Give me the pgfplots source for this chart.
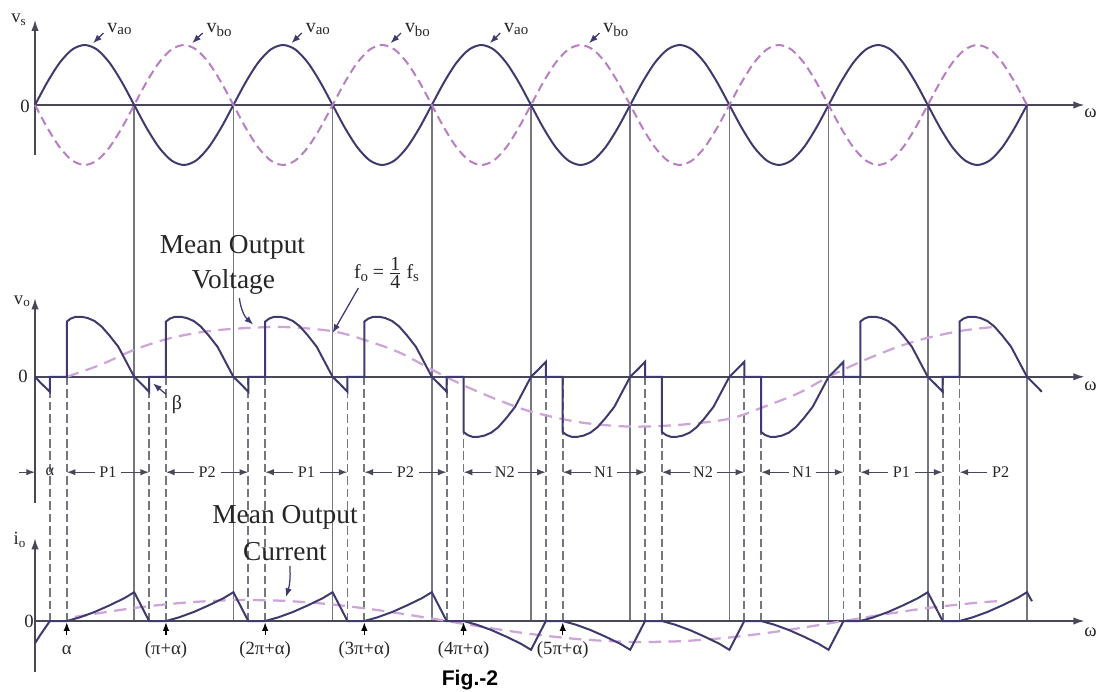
\documentclass[border=0pt]{standalone}
\usepackage{fontspec}
\setmainfont{Liberation Serif}
\newfontfamily\figfont{Liberation Sans}
\usepackage{pgfplots}
\pgfplotsset{compat=1.18}
\usepackage{pgfplotstable}
\usetikzlibrary{arrows.meta}

\definecolor{wave}{RGB}{62,58,112}
\definecolor{axiscol}{RGB}{72,72,88}
\definecolor{vline}{RGB}{118,118,128}
\definecolor{vbocol}{RGB}{185,125,195}
\definecolor{meancol}{RGB}{205,165,215}

% supply voltages (t in units of pi)
\pgfplotstableread{
t a b
0.000 0 0
0.125 0.383 -0.383
0.250 0.707 -0.707
0.375 0.924 -0.924
0.500 1 -1
0.625 0.924 -0.924
0.750 0.707 -0.707
0.875 0.383 -0.383
1.000 0 0
1.125 -0.383 0.383
1.250 -0.707 0.707
1.375 -0.924 0.924
1.500 -1 1
1.625 -0.924 0.924
1.750 -0.707 0.707
1.875 -0.383 0.383
2.000 0 0
2.125 0.383 -0.383
2.250 0.707 -0.707
2.375 0.924 -0.924
2.500 1 -1
2.625 0.924 -0.924
2.750 0.707 -0.707
2.875 0.383 -0.383
3.000 0 0
3.125 -0.383 0.383
3.250 -0.707 0.707
3.375 -0.924 0.924
3.500 -1 1
3.625 -0.924 0.924
3.750 -0.707 0.707
3.875 -0.383 0.383
4.000 0 0
4.125 0.383 -0.383
4.250 0.707 -0.707
4.375 0.924 -0.924
4.500 1 -1
4.625 0.924 -0.924
4.750 0.707 -0.707
4.875 0.383 -0.383
5.000 0 0
5.125 -0.383 0.383
5.250 -0.707 0.707
5.375 -0.924 0.924
5.500 -1 1
5.625 -0.924 0.924
5.750 -0.707 0.707
5.875 -0.383 0.383
6.000 0 0
6.125 0.383 -0.383
6.250 0.707 -0.707
6.375 0.924 -0.924
6.500 1 -1
6.625 0.924 -0.924
6.750 0.707 -0.707
6.875 0.383 -0.383
7.000 0 0
7.125 -0.383 0.383
7.250 -0.707 0.707
7.375 -0.924 0.924
7.500 -1 1
7.625 -0.924 0.924
7.750 -0.707 0.707
7.875 -0.383 0.383
8.000 0 0
8.125 0.383 -0.383
8.250 0.707 -0.707
8.375 0.924 -0.924
8.500 1 -1
8.625 0.924 -0.924
8.750 0.707 -0.707
8.875 0.383 -0.383
9.000 0 0
9.125 -0.383 0.383
9.250 -0.707 0.707
9.375 -0.924 0.924
9.500 -1 1
9.625 -0.924 0.924
9.750 -0.707 0.707
9.875 -0.383 0.383
10.000 0 0
}\supply

% output voltage
\pgfplotstableread{
t v
0.00 0
0.05 -0.09
0.10 -0.17
0.15 -0.25
0.15 0
0.32 0
0.32 0.92
0.36 0.97
0.41 1.00
0.47 1.00
0.53 0.98
0.60 0.93
0.67 0.84
0.75 0.69
0.84 0.50
0.92 0.25
1.00 0
1.08 -0.13
1.15 -0.25
1.15 0
1.32 0
1.32 0.92
1.36 0.97
1.41 1.00
1.47 1.00
1.53 0.98
1.60 0.93
1.67 0.84
1.75 0.69
1.84 0.50
1.92 0.25
2.00 0
2.08 -0.13
2.15 -0.25
2.15 0
2.32 0
2.32 0.92
2.36 0.97
2.41 1.00
2.47 1.00
2.53 0.98
2.60 0.93
2.67 0.84
2.75 0.69
2.84 0.50
2.92 0.25
3.00 0
3.08 -0.13
3.15 -0.25
3.15 0
3.32 0
3.32 0.92
3.36 0.97
3.41 1.00
3.47 1.00
3.53 0.98
3.60 0.93
3.67 0.84
3.75 0.69
3.84 0.50
3.92 0.25
4.00 0
4.08 -0.13
4.15 -0.25
4.15 0
4.32 0
4.32 -0.92
4.36 -0.97
4.41 -1.00
4.47 -1.00
4.53 -0.98
4.60 -0.93
4.67 -0.84
4.75 -0.69
4.84 -0.50
4.92 -0.25
5.00 0
5.08 0.13
5.15 0.25
5.15 0
5.32 0
5.32 -0.92
5.36 -0.97
5.41 -1.00
5.47 -1.00
5.53 -0.98
5.60 -0.93
5.67 -0.84
5.75 -0.69
5.84 -0.50
5.92 -0.25
6.00 0
6.08 0.13
6.15 0.25
6.15 0
6.32 0
6.32 -0.92
6.36 -0.97
6.41 -1.00
6.47 -1.00
6.53 -0.98
6.60 -0.93
6.67 -0.84
6.75 -0.69
6.84 -0.50
6.92 -0.25
7.00 0
7.08 0.13
7.15 0.25
7.15 0
7.32 0
7.32 -0.92
7.36 -0.97
7.41 -1.00
7.47 -1.00
7.53 -0.98
7.60 -0.93
7.67 -0.84
7.75 -0.69
7.84 -0.50
7.92 -0.25
8.00 0
8.08 0.13
8.15 0.25
8.15 0
8.32 0
8.32 0.92
8.36 0.97
8.41 1.00
8.47 1.00
8.53 0.98
8.60 0.93
8.67 0.84
8.75 0.69
8.84 0.50
8.92 0.25
9.00 0
9.08 -0.13
9.15 -0.25
9.15 0
9.32 0
9.32 0.92
9.36 0.97
9.41 1.00
9.47 1.00
9.53 0.98
9.60 0.93
9.67 0.84
9.75 0.69
9.84 0.50
9.92 0.25
10.00 0
10.08 -0.13
10.15 -0.25
}\vout

% mean output voltage
\pgfplotstableread{
t v
0.32 0
0.66 0.20
1.00 0.45
1.33 0.63
1.66 0.74
2.00 0.80
2.50 0.83
3.00 0.76
3.35 0.60
3.68 0.40
4.00 0.12
4.33 -0.15
4.66 -0.38
5.00 -0.58
5.50 -0.76
6.00 -0.83
6.50 -0.80
7.00 -0.70
7.35 -0.50
7.70 -0.27
8.00 0
8.35 0.27
8.70 0.50
9.00 0.65
9.35 0.77
9.66 0.83
}\vmean

% output current
\pgfplotstableread{
t i
0.00 -0.37
0.05 -0.24
0.10 -0.12
0.15 0
0.32 0
0.45 0.06
0.60 0.15
0.75 0.26
0.90 0.38
1.00 0.48
1.15 0
1.32 0
1.45 0.06
1.60 0.15
1.75 0.26
1.90 0.38
2.00 0.48
2.15 0
2.32 0
2.45 0.06
2.60 0.15
2.75 0.26
2.90 0.38
3.00 0.48
3.15 0
3.32 0
3.45 0.06
3.60 0.15
3.75 0.26
3.90 0.38
4.00 0.48
4.15 0
4.32 0
4.45 -0.06
4.60 -0.15
4.75 -0.26
4.90 -0.38
5.00 -0.48
5.15 0
5.32 0
5.45 -0.06
5.60 -0.15
5.75 -0.26
5.90 -0.38
6.00 -0.48
6.15 0
6.32 0
6.45 -0.06
6.60 -0.15
6.75 -0.26
6.90 -0.38
7.00 -0.48
7.15 0
7.32 0
7.45 -0.06
7.60 -0.15
7.75 -0.26
7.90 -0.38
8.00 -0.48
8.15 0
8.32 0
8.45 0.06
8.60 0.15
8.75 0.26
8.90 0.38
9.00 0.48
9.15 0
9.32 0
9.45 0.06
9.60 0.15
9.75 0.26
9.90 0.38
10.00 0.48
10.05 0.33
}\iout

% mean output current
\pgfplotstableread{
t i
0.40 0.068
1.00 0.217
1.50 0.305
2.00 0.348
2.50 0.337
3.00 0.275
3.50 0.171
4.00 0.041
4.50 -0.095
5.00 -0.217
5.50 -0.305
6.00 -0.348
6.50 -0.337
7.00 -0.275
7.50 -0.171
8.00 -0.041
8.50 0.095
9.00 0.217
9.50 0.305
9.70 0.330
}\imean

\tikzset{
  arr/.style={-{Latex[length=4.5pt,width=3pt]}},
  sarr/.style={-{Latex[length=3.5pt,width=2.6pt]}},
  lab/.style={font=\fontsize{7.5}{8.5}\selectfont, inner sep=1pt, text=black!85},
  ilab/.style={font=\fontsize{6.5}{7.5}\selectfont, inner sep=1pt, text=black!85},
  big/.style={font=\fontsize{11}{13}\selectfont, inner sep=0pt, text=black!85},
}

\newcommand{\intv}[6]{%
  \draw[sarr, axiscol, line width=0.5pt] (axis cs:#2,-6.12) -- (axis cs:#1,-6.12);
  \draw[sarr, axiscol, line width=0.5pt] (axis cs:#4,-6.12) -- (axis cs:#5,-6.12);
  \node[ilab] at (axis cs:#3,-6.12) {#6};}

\begin{document}
\begin{tikzpicture}
\begin{axis}[
  width=15.5cm, height=9.755cm, scale only axis,
  xmin=-0.353, xmax=10.716, ymin=-9.767, ymax=1.75,
  axis lines=none, clip=false,
]
\coordinate (bbl) at (axis cs:-0.353,-9.767);
\coordinate (btr) at (axis cs:10.716,1.75);
% vertical solid lines
\pgfplotsinvokeforeach{1,...,10}{
  \draw[vline, line width=0.7pt] (axis cs:#1,0) -- (axis cs:#1,-8.6);
}
% vertical dashed lines
\pgfplotsinvokeforeach{0.15,0.32,1.15,1.32,2.15,2.32,3.15,3.32,4.15,4.32,5.15,5.32,6.15,6.32,7.15,7.32,8.15,8.32,9.15,9.32}{
  \draw[vline, line width=0.7pt, dash pattern=on 3.4pt off 1.6pt] (axis cs:#1,-4.53) -- (axis cs:#1,-8.6);
}

% axes
\draw[arr, axiscol, line width=0.65pt] (axis cs:0,0) -- (axis cs:10.58,0);
\draw[arr, axiscol, line width=0.65pt] (axis cs:0,-0.83) -- (axis cs:0,1.42);
\draw[arr, axiscol, line width=0.65pt] (axis cs:0,-4.53) -- (axis cs:10.58,-4.53);
\draw[arr, axiscol, line width=0.65pt] (axis cs:0,-6.63) -- (axis cs:0,-3.22);
\draw[arr, axiscol, line width=0.65pt] (axis cs:0,-8.6) -- (axis cs:10.58,-8.6);
\draw[arr, axiscol, line width=0.65pt] (axis cs:0,-9.45) -- (axis cs:0,-7.22);

\node[lab] at (axis cs:10.64,-0.14) {ω};
\node[lab] at (axis cs:10.64,-4.69) {ω};
\node[lab] at (axis cs:10.64,-8.78) {ω};
\node[lab] at (axis cs:-0.16,1.42) {v\textsubscript{s}};
\node[lab] at (axis cs:-0.10,-0.02) {0};
\node[lab, anchor=east] at (axis cs:-0.01,-3.27) {v\textsubscript{o}};
\node[lab] at (axis cs:-0.12,-4.53) {0};
\node[lab] at (axis cs:-0.15,-7.25) {i\textsubscript{o}};
\node[lab] at (axis cs:-0.06,-8.6) {0};

% supply curves
\addplot[wave, line width=0.8pt, smooth] table[x=t, y=a] {\supply};
\addplot[vbocol, line width=0.8pt, smooth, dash pattern=on 3.5pt off 2pt] table[x=t, y=b] {\supply};

% v labels
\pgfplotsinvokeforeach{0,1,2,3,4,5}{
  \draw[sarr, wave, line width=0.5pt] (axis cs:#1+0.69,1.2) -- (axis cs:#1+0.585,1.03);
}
\node[lab, anchor=west, font=\fontsize{8}{9}\selectfont] at (axis cs:0.70,1.27) {v\textsubscript{ao}};
\node[lab, anchor=west, font=\fontsize{8}{9}\selectfont] at (axis cs:1.70,1.25) {v\textsubscript{bo}};
\node[lab, anchor=west, font=\fontsize{8}{9}\selectfont] at (axis cs:2.70,1.27) {v\textsubscript{ao}};
\node[lab, anchor=west, font=\fontsize{8}{9}\selectfont] at (axis cs:3.70,1.25) {v\textsubscript{bo}};
\node[lab, anchor=west, font=\fontsize{8}{9}\selectfont] at (axis cs:4.70,1.27) {v\textsubscript{ao}};
\node[lab, anchor=west, font=\fontsize{8}{9}\selectfont] at (axis cs:5.70,1.25) {v\textsubscript{bo}};

% output voltage
\addplot[meancol, line width=0.9pt, smooth, dash pattern=on 5pt off 3pt] table[x=t, y expr=\thisrow{v}-4.53] {\vmean};
\addplot[wave, line width=0.8pt] table[x=t, y expr=\thisrow{v}-4.53] {\vout};

% output current
\addplot[meancol, line width=0.9pt, smooth, dash pattern=on 5pt off 3pt] table[x=t, y expr=\thisrow{i}-8.6] {\imean};
\addplot[wave, line width=0.8pt] table[x=t, y expr=\thisrow{i}-8.6] {\iout};

% interval row
\draw[sarr, axiscol, line width=0.5pt] (axis cs:-0.16,-6.12) -- (axis cs:0,-6.12);
\node[ilab] at (axis cs:0.15,-6.12) {α};
\intv{0.32}{0.60}{0.735}{0.87}{1.15}{P1}
\intv{1.32}{1.60}{1.735}{1.87}{2.15}{P2}
\intv{2.32}{2.60}{2.735}{2.87}{3.15}{P1}
\intv{3.32}{3.60}{3.735}{3.87}{4.15}{P2}
\intv{4.32}{4.60}{4.735}{4.87}{5.15}{N2}
\intv{5.32}{5.60}{5.735}{5.87}{6.15}{N1}
\intv{6.32}{6.60}{6.735}{6.87}{7.15}{N2}
\intv{7.32}{7.60}{7.735}{7.87}{8.15}{N1}
\intv{8.32}{8.60}{8.735}{8.87}{9.15}{P1}
\draw[sarr, axiscol, line width=0.5pt] (axis cs:9.60,-6.12) -- (axis cs:9.32,-6.12);
\node[ilab] at (axis cs:9.735,-6.12) {P2};

% annotations middle
\node[big] at (axis cs:1.99,-2.37) {Mean Output};
\node[big] at (axis cs:2.00,-2.95) {Voltage};
\draw[sarr, wave, line width=0.5pt] (axis cs:2.06,-3.22) to[bend right=20] (axis cs:2.2,-3.66);
\node[lab, font=\fontsize{8}{9}\selectfont] at (axis cs:3.55,-2.8) {f\textsubscript{o}\,=\,$\frac{\mbox{1}}{\mbox{4}}$\,f\textsubscript{s}};
\draw[sarr, wave, line width=0.5pt] (axis cs:3.26,-3.05) -- (axis cs:3.0,-3.8);
\node[lab, font=\fontsize{8}{9}\selectfont] at (axis cs:1.43,-5.0) {β};
\draw[sarr, wave, line width=0.5pt] (axis cs:1.32,-4.82) -- (axis cs:1.19,-4.64);

% annotations bottom
\node[big] at (axis cs:2.52,-6.88) {Mean Output};
\node[big] at (axis cs:2.52,-7.45) {Current};
\draw[sarr, wave, line width=0.5pt] (axis cs:2.57,-7.68) to[bend left=10] (axis cs:2.53,-8.2);

\pgfplotsinvokeforeach{0.32,1.32,2.32,3.32,4.32,5.32}{
  \draw[sarr, black, line width=0.5pt] (axis cs:#1,-8.84) -- (axis cs:#1,-8.62);
}
\node[lab] at (axis cs:0.32,-9.08) {α};
\node[lab] at (axis cs:1.32,-9.08) {(π+α)};
\node[lab] at (axis cs:2.32,-9.08) {(2π+α)};
\node[lab] at (axis cs:3.32,-9.08) {(3π+α)};
\node[lab] at (axis cs:4.32,-9.08) {(4π+α)};
\node[lab] at (axis cs:5.32,-9.08) {(5π+α)};

\node[font=\figfont\bfseries\fontsize{8.5}{10}\selectfont, inner sep=0pt] at (axis cs:4.385,-9.58) {Fig.-2};
\end{axis}
\pgfresetboundingbox
\path[use as bounding box] (bbl) rectangle (btr);
\end{tikzpicture}
\end{document}
